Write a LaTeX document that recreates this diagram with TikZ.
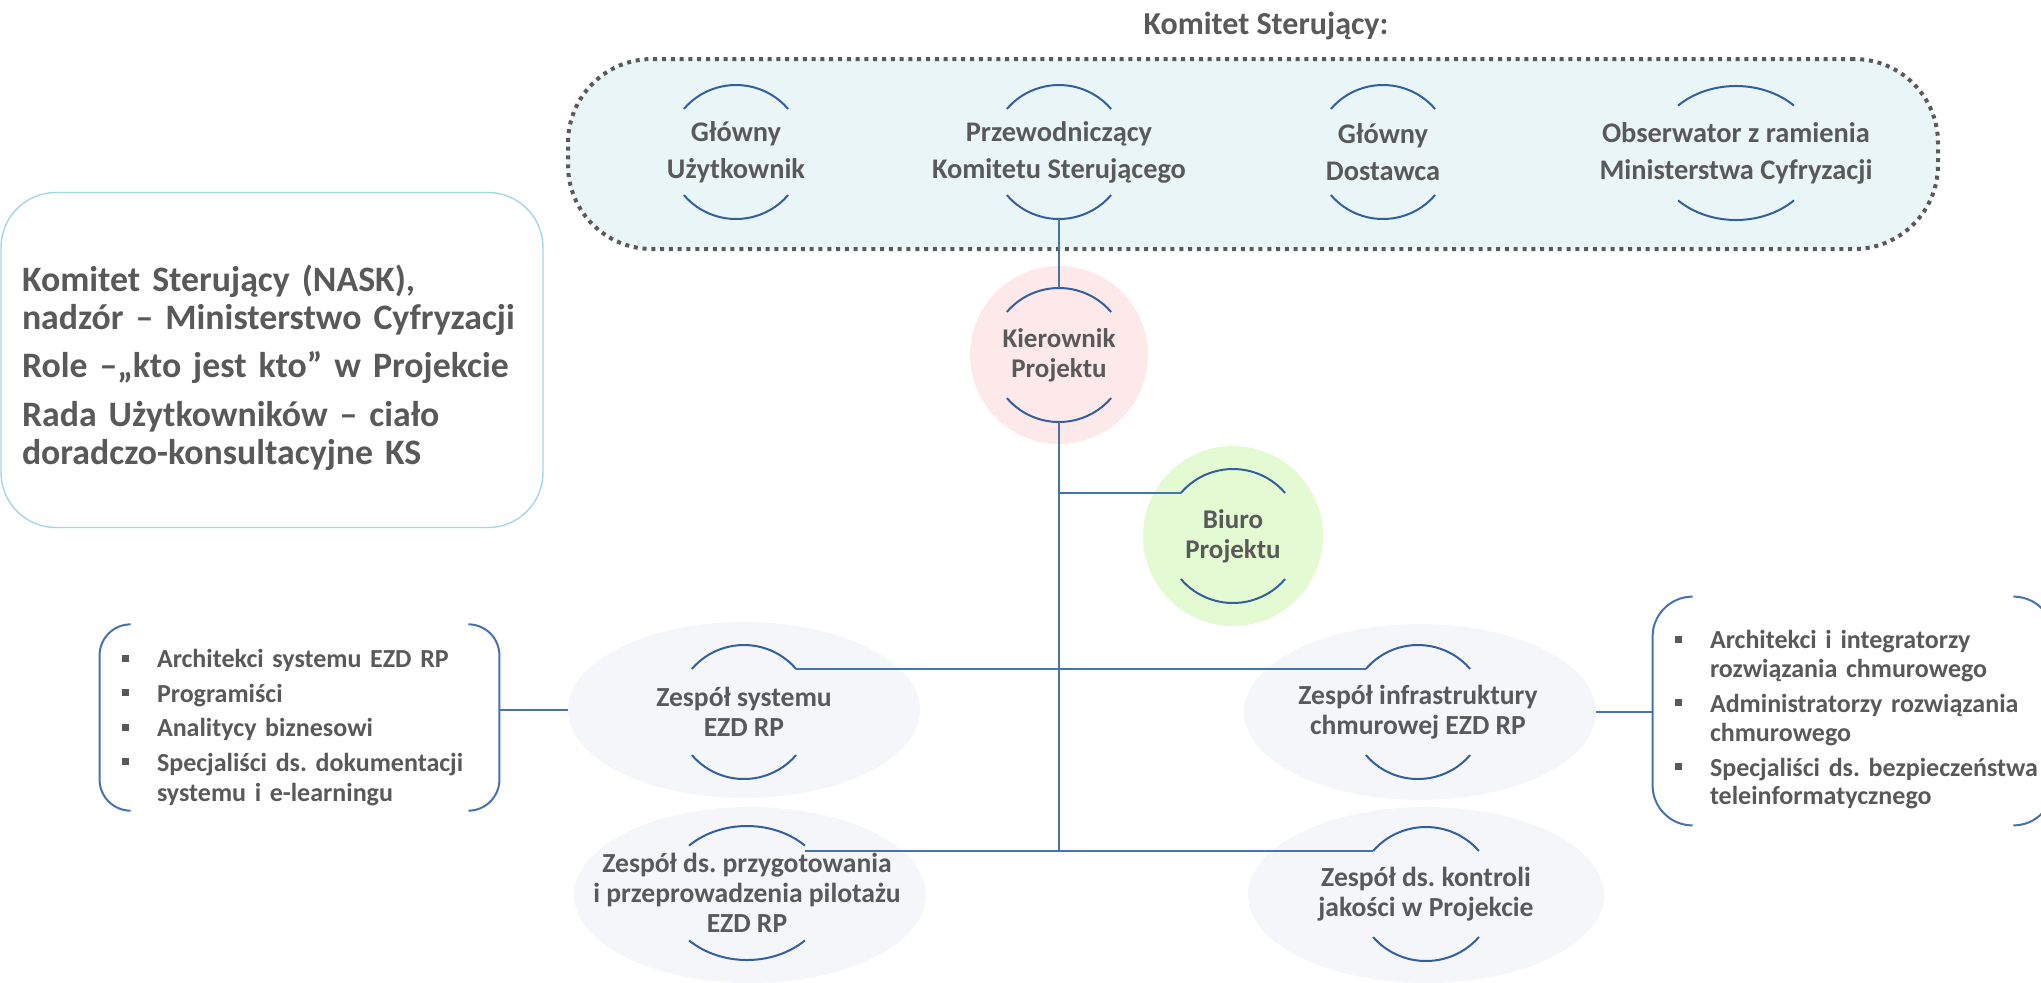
\documentclass[tikz,border=0pt]{standalone}
\usepackage{fontspec}
\setmainfont{Carlito}
\usetikzlibrary{shapes.geometric, positioning}

\definecolor{txtgray}{HTML}{595959}
\definecolor{ksfill}{HTML}{EAF5F8}
\definecolor{lineblue}{HTML}{4672B0}
\definecolor{arcblue}{HTML}{335F9C}
\definecolor{leadpink}{HTML}{FDE9EA}
\definecolor{officegreen}{HTML}{E3FAD3}
\definecolor{teamfill}{HTML}{F4F6FA}
\definecolor{infoblue}{HTML}{A3D6E4}

% two arcs above and below a node, with named end points
\newcommand{\arcpair}[4][40]{%
  \pgfmathsetmacro\arcA{180-#1}%
  \pgfmathsetmacro\arcB{180+#1}%
  \pgfmathsetmacro\arcC{360-#1}%
  \draw[arcline] (#2.center) ++(\arcA:#3 and #4) coordinate (#2-tl)
    arc[start angle=\arcA, end angle=#1, x radius=#3, y radius=#4] coordinate (#2-tr);
  \draw[arcline] (#2.center) ++(\arcB:#3 and #4) coordinate (#2-bl)
    arc[start angle=\arcB, end angle=\arcC, x radius=#3, y radius=#4] coordinate (#2-br);
  \path (#2.center) ++(90:#4) coordinate (#2-top);
  \path (#2.center) ++(270:#4) coordinate (#2-bot);
}
\newcommand{\sqbullet}{\textcolor{txtgray}{\rule[3pt]{3.5pt}{3.5pt}}}

\begin{document}
\frenchspacing
\begin{tikzpicture}[x=0.5pt, y=-0.5pt,
every node/.style={text=txtgray},
title/.style={font=\fontsize{16}{19}\selectfont\bfseries},
role/.style={align=center, inner sep=0pt, font=\fontsize{14.2}{18.5}\selectfont\bfseries},
ksbox/.style={rectangle, rounded corners=42pt, draw=txtgray, line width=2pt,
  dash pattern=on 2pt off 2.4pt, fill=ksfill, minimum width=685pt, minimum height=95pt},
lead/.style={circle, minimum size=89pt, inner sep=0pt, align=center,
  font=\fontsize{13.5}{15}\selectfont\bfseries},
teambg/.style={ellipse, fill=teamfill, minimum width=176pt, minimum height=88pt, inner sep=0pt},
team/.style={align=center, inner sep=0pt, font=\fontsize{13.8}{15}\selectfont\bfseries},
info/.style={rectangle, rounded corners=27.5pt, draw=infoblue, line width=0.7pt,
  minimum width=271pt, minimum height=167.5pt, text width=250pt, inner xsep=10.5pt,
  align=left, font=\fontsize{17.9}{18.8}\selectfont\bfseries},
group/.style={rectangle, inner xsep=11pt, inner ysep=0pt, align=left,
  font=\fontsize{13}{15}\selectfont\bfseries},
brace/.style={draw=lineblue, line width=1pt},
link/.style={draw=lineblue, line width=1pt},
trunk/.style={draw=lineblue, line width=1.2pt},
arcline/.style={draw=arcblue, line width=1pt}
]
\useasboundingbox (0,0) rectangle (2041,982);

% steering committee
\node[ksbox] (ks) at (1253,154) {};
\node[title] (kstitle) at (1266,26) {Komitet Sterujący:};
\node[role] (gu) at (736,152) {Główny\\Użytkownik};
\node[role] (pk) at (1059,152) {Przewodniczący\\Komitetu Sterującego};
\node[role] (gd) at (1383,152) {Główny\\Dostawca};
\node[role] (obs) at (1736,153) {Obserwator z ramienia\\Ministerstwa Cyfryzacji};

% info box
\node[info] (info) at (272,360) {\rule{0pt}{21pt}Komitet Sterujący (NASK),\\nadzór – Ministerstwo Cyfryzacji\\[5.5pt]
  Role –„kto jest kto” w Projekcie\\[5.5pt]
  Rada Użytkowników – ciało\\doradczo-konsultacyjne KS};

% project management
\node[lead, fill=leadpink] (kp) at (1059,355) {Kierownik\\Projektu};
\node[lead, fill=officegreen, minimum size=90pt] (bp) at (1233,536) {Biuro\\Projektu};

% teams
\node[teambg] (sysbg) at (744,710) {};
\node[team] (sys) at (744,712) {Zespół systemu\\EZD RP};
\node[teambg] (infbg) at (1420,712) {};
\node[team] (inf) at (1418,712) {Zespół infrastruktury\\chmurowej EZD RP};
\node[teambg] (pilbg) at (750,895) {};
\node[team] (pil) at (747,893) {Zespół ds. przygotowania\\i przeprowadzenia pilotażu\\EZD RP};
\node[teambg, minimum width=178pt] (jakbg) at (1426,895) {};
\node[team] (jak) at (1426,894) {Zespół ds. kontroli\\jakości w Projekcie};

% member lists
\node[group, text width=177.5pt, minimum height=91.5pt] (sysgrp) at (299.5,717.5) {%
  \begin{tabular}{@{}l@{\hspace{14pt}}l@{}}
  \noalign{\vspace{11pt}}
  \sqbullet & Architekci systemu EZD RP\\[2.25pt]
  \sqbullet & Programiści\\[2.25pt]
  \sqbullet & Analitycy biznesowi\\[2.25pt]
  \sqbullet & Specjaliści ds. dokumentacji\\
            & systemu i e-learningu
  \end{tabular}};
\node[group, text width=178pt, minimum height=114pt, font=\fontsize{13}{14.3}\selectfont\bfseries]
  (infgrp) at (1853,711) {%
  \begin{tabular}{@{}l@{\hspace{14pt}}l@{}}
  \noalign{\vspace{10pt}}
  \sqbullet & Architekci i integratorzy\\
            & rozwiązania chmurowego\\[3.3pt]
  \sqbullet & Administratorzy rozwiązania\\
            & chmurowego\\[3.3pt]
  \sqbullet & Specjaliści ds. bezpieczeństwa\\
            & teleinformatycznego
  \end{tabular}};

\foreach \g/\r in {sysgrp/15.5pt, infgrp/20pt} {
  \draw[brace, rounded corners=\r] ([xshift=\r]\g.north west) -- (\g.north west)
    -- (\g.south west) -- ([xshift=\r]\g.south west);
  \draw[brace, rounded corners=\r] ([xshift=-\r]\g.north east) -- (\g.north east)
    -- (\g.south east) -- ([xshift=-\r]\g.south east);
}

% arcs
\arcpair{gu}{34pt}{33.5pt}
\arcpair{pk}{34pt}{33.5pt}
\arcpair{gd}{34pt}{33.5pt}
\arcpair[45]{obs}{41pt}{33.5pt}
\arcpair{kp}{34pt}{33.5pt}
\arcpair{bp}{34pt}{33.5pt}
\arcpair{sys}{34pt}{33.5pt}
\arcpair{inf}{34pt}{33.5pt}
\arcpair[45]{pil}{41pt}{33.5pt}
\arcpair{jak}{34.5pt}{33.5pt}

% connectors
\draw[trunk] (pk-bot) -- (kp-top);
\draw[trunk] (kp-bot) -- (kp-bot |- jak-tl);
\draw[link] (kp-bot |- bp-tl) -- (bp-tl);
\draw[link] (sys-tr) -- (inf-tl);
\draw[link] (pil-tr |- jak-tl) -- (jak-tl);
\draw[link] (sysbg.west) -- (sysbg.west -| sysgrp.east);
\draw[link] (infbg.east) -- (infbg.east -| infgrp.west);
\end{tikzpicture}
\end{document}
